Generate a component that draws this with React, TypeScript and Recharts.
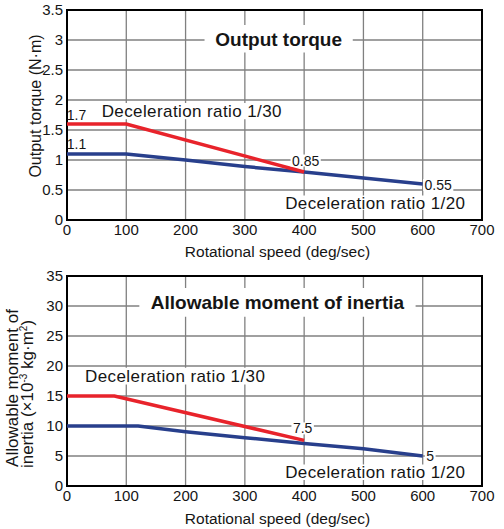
import React from 'react';
import { LineChart, Line, XAxis, YAxis, CartesianGrid, ReferenceArea, ReferenceDot } from 'recharts';

// rotational speed ticks, shared by both charts
const speedTicks = [0, 100, 200, 300, 400, 500, 600, 700];

// output torque chart
const torqueTicks = [0, 0.5, 1, 1.5, 2, 2.5, 3, 3.5];
const speedRed1 = [0, 100, 400];
const torqueRed = [1.6, 1.6, 0.8];
const speedBlue1 = [0, 100, 200, 300, 400, 500, 600];
const torqueBlue = [1.1, 1.1, 1.0, 0.89, 0.8, 0.7, 0.6];
const torqueTags = ['1.7', '1.1', '0.85', '0.55'];

// allowable moment of inertia chart
const inertiaTicks = [0, 5, 10, 15, 20, 25, 30, 35];
const speedRed2 = [0, 80, 400];
const inertiaRed = [15, 15, 7.6];
const speedBlue2 = [0, 120, 200, 300, 400, 500, 600];
const inertiaBlue = [10, 10, 9.05, 8.05, 7.1, 6.2, 5];
const inertiaTags = ['7.5', '5'];

const ratio30 = 'Deceleration ratio 1/30';
const ratio20 = 'Deceleration ratio 1/20';

const FONT = "'Liberation Sans', Arial, Helvetica, sans-serif";
const RED = '#e8232b';
const BLUE = '#283f8c';
const GRID = '#808080';
const INK = '#151515';

const toPoints = (xs: number[], ys: number[]) => xs.map((x, i) => ({ x, y: ys[i] }));

function textWidth(s: string, size: number) {
    let w = 0;
    for (const ch of s) w += ch === '.' ? 0.278 : 0.556;
    return w * size;
}

function ValueTag(props: any) {
    const { cx, cy, text, dx, dy, bg = true } = props;
    const fs = 14;
    const w = textWidth(text, fs) + 3;
    const h = 12;
    const x = cx + dx;
    const y = cy + dy;
    return (
        <g>
            {bg && <rect x={x - w / 2} y={y - h / 2} width={w} height={h} fill="#fff" />}
            <text x={x} y={y + 5} textAnchor="middle" fontSize={fs} fill={INK} fontFamily={FONT}>
                {text}
            </text>
        </g>
    );
}

function TorqueAxisTitle(props: any) {
    const vb = props.viewBox || { x: 0, y: 10, width: 67, height: 210 };
    const x = vb.x + 41;
    const y = vb.y + vb.height / 2 - 9;
    return (
        <text x={x} y={y} transform={`rotate(-90 ${x} ${y})`} textAnchor="middle" fontSize={16} fill={INK} fontFamily={FONT}>
            Output torque (N·m)
        </text>
    );
}

function InertiaAxisTitle(props: any) {
    const vb = props.viewBox || { x: 0, y: 16, width: 67, height: 210 };
    const x1 = vb.x + 18;
    const x2 = vb.x + 33;
    const y1 = vb.y + vb.height / 2 + 7;
    const y2 = vb.y + vb.height / 2 + 13;
    return (
        <g fontSize={17} fill={INK} fontFamily={FONT}>
            <text x={x1} y={y1} transform={`rotate(-90 ${x1} ${y1})`} textAnchor="middle">
                Allowable moment of
            </text>
            <text x={x2} y={y2} transform={`rotate(-90 ${x2} ${y2})`} textAnchor="middle">
                inertia (×10
                <tspan dy={-6} fontSize={10}>-3</tspan>
                <tspan dy={6}> kg·m</tspan>
                <tspan dy={-6} fontSize={10}>2</tspan>
                <tspan dy={6}>)</tspan>
            </text>
        </g>
    );
}

const tickStyle = { fontSize: 15, fill: INK, fontFamily: FONT };
const boxLabel = (value: string) => ({ value, position: 'center' as const, fontSize: 17, letterSpacing: 0.4, fill: INK, fontFamily: FONT });
const titleLabel = (value: string) => ({ value, position: 'center' as const, fontSize: 19, fontWeight: 'bold', fill: INK, fontFamily: FONT });

export default function App() {
    const red1 = toPoints(speedRed1, torqueRed);
    const blue1 = toPoints(speedBlue1, torqueBlue);
    const red2 = toPoints(speedRed2, inertiaRed);
    const blue2 = toPoints(speedBlue2, inertiaBlue);

    return (
        <div style={{ position: 'absolute', left: 0, top: 0, width: 504, height: 529, background: '#fff', fontFamily: FONT }}>
            <LineChart width={504} height={260} margin={{ top: 10, right: 22, bottom: 0, left: 0 }}>
                <CartesianGrid stroke={GRID} strokeWidth={1.3} />
                <XAxis
                    type="number"
                    dataKey="x"
                    domain={[0, 700]}
                    ticks={speedTicks}
                    tickSize={0}
                    tickMargin={4}
                    axisLine={false}
                    tick={tickStyle}
                    height={40}
                    interval={0}
                    label={{ value: 'Rotational speed (deg/sec)', position: 'insideBottom', offset: 3, dx: 3, fontSize: 15.5, fill: INK, fontFamily: FONT }}
                />
                <YAxis
                    type="number"
                    domain={[0, 3.5]}
                    ticks={torqueTicks}
                    tickSize={0}
                    tickMargin={4}
                    axisLine={false}
                    tick={tickStyle}
                    width={67}
                    interval={0}
                    label={<TorqueAxisTitle />}
                />
                <ReferenceArea x1={232} x2={482} y1={2.79} y2={3.25} fill="#fff" fillOpacity={1} stroke="none" label={titleLabel('Output torque')} />
                <ReferenceArea x1={56} x2={365} y1={1.68} y2={1.95} fill="#fff" fillOpacity={1} stroke="none" label={boxLabel(ratio30)} />
                <ReferenceArea x1={363} x2={677} y1={0.17} y2={0.41} fill="#fff" fillOpacity={1} stroke="none" label={boxLabel(ratio20)} />
                <ReferenceArea x1={0} x2={700} y1={0} y2={3.5} fill="none" stroke="#000" strokeWidth={2} />
                <Line data={blue1} dataKey="y" type="linear" stroke={BLUE} strokeWidth={3.5} dot={false} isAnimationActive={false} />
                <Line data={red1} dataKey="y" type="linear" stroke={RED} strokeWidth={3.5} dot={false} isAnimationActive={false} />
                <ReferenceDot x={speedRed1[0]} y={torqueRed[0]} r={0} shape={(p: any) => <ValueTag cx={p.cx} cy={p.cy} text={torqueTags[0]} dx={9.5} dy={-9} bg={false} />} />
                <ReferenceDot x={speedBlue1[0]} y={torqueBlue[0]} r={0} shape={(p: any) => <ValueTag cx={p.cx} cy={p.cy} text={torqueTags[1]} dx={9.5} dy={-10} bg={false} />} />
                <ReferenceDot x={speedRed1[2]} y={torqueRed[2]} r={0} shape={(p: any) => <ValueTag cx={p.cx} cy={p.cy} text={torqueTags[2]} dx={1.5} dy={-11.5} />} />
                <ReferenceDot x={speedBlue1[6]} y={torqueBlue[6]} r={0} shape={(p: any) => <ValueTag cx={p.cx} cy={p.cy} text={torqueTags[3]} dx={15.5} dy={1} />} />
            </LineChart>
            <LineChart width={504} height={269} margin={{ top: 16, right: 22, bottom: 0, left: 0 }}>
                <CartesianGrid stroke={GRID} strokeWidth={1.3} />
                <XAxis
                    type="number"
                    dataKey="x"
                    domain={[0, 700]}
                    ticks={speedTicks}
                    tickSize={0}
                    tickMargin={4}
                    axisLine={false}
                    tick={tickStyle}
                    height={43}
                    interval={0}
                    label={{ value: 'Rotational speed (deg/sec)', position: 'insideBottom', offset: 5, dx: 3, fontSize: 15.5, fill: INK, fontFamily: FONT }}
                />
                <YAxis
                    type="number"
                    domain={[0, 35]}
                    ticks={inertiaTicks}
                    tickSize={0}
                    tickMargin={4}
                    axisLine={false}
                    tick={tickStyle}
                    width={67}
                    interval={0}
                    label={<InertiaAxisTitle />}
                />
                <ReferenceArea x1={122} x2={588} y1={28.2} y2={33} fill="#fff" fillOpacity={1} stroke="none" label={titleLabel('Allowable moment of inertia')} />
                <ReferenceArea x1={26} x2={339} y1={16.9} y2={19.7} fill="#fff" fillOpacity={1} stroke="none" label={boxLabel(ratio30)} />
                <ReferenceArea x1={365} x2={675} y1={1.0} y2={3.6} fill="#fff" fillOpacity={1} stroke="none" label={boxLabel(ratio20)} />
                <ReferenceArea x1={0} x2={700} y1={0} y2={35} fill="none" stroke="#000" strokeWidth={2} />
                <Line data={blue2} dataKey="y" type="linear" stroke={BLUE} strokeWidth={3.5} dot={false} isAnimationActive={false} />
                <Line data={red2} dataKey="y" type="linear" stroke={RED} strokeWidth={3.5} dot={false} isAnimationActive={false} />
                <ReferenceDot x={speedRed2[2]} y={inertiaRed[2]} r={0} shape={(p: any) => <ValueTag cx={p.cx} cy={p.cy} text={inertiaTags[0]} dx={-1.5} dy={-12} />} />
                <ReferenceDot x={speedBlue2[6]} y={inertiaBlue[6]} r={0} shape={(p: any) => <ValueTag cx={p.cx} cy={p.cy} text={inertiaTags[1]} dx={7.5} dy={-0.5} />} />
            </LineChart>
        </div>
    );
}
